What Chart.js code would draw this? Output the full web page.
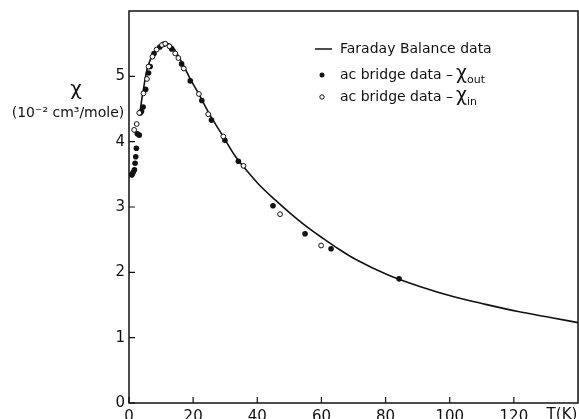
<!DOCTYPE html>
<html>
<head>
<meta charset="utf-8">
<script src="https://cdn.jsdelivr.net/npm/chart.js@4.4.1/dist/chart.umd.min.js"></script>
<style>
  body { margin: 0; background: #fff; }
  #wrap { width: 579px; height: 419px; }
</style>
</head>
<body>
<div id="wrap"><canvas id="myChart" width="579" height="419"></canvas></div>
<script>
// Faraday balance curve
var faradayT   = [3.4, 3.9, 4.5, 5.1, 5.6, 6.6, 8.1, 9.8, 11.9, 13.9, 16.4, 19, 22, 25, 29.1, 33.1, 37.7, 40.2, 45.3, 50.4, 55.4, 60.5, 65.6, 70.6, 80.8, 90.9, 101, 111.2, 121.3, 131.4, 140];
var faradayChi = [4.44, 4.62, 4.80, 4.98, 5.10, 5.25, 5.38, 5.47, 5.50, 5.43, 5.22, 4.97, 4.71, 4.43, 4.10, 3.78, 3.50, 3.36, 3.12, 2.90, 2.70, 2.52, 2.35, 2.20, 1.96, 1.78, 1.63, 1.51, 1.40, 1.31, 1.23];

// ac bridge, chi_out (filled)
var outT   = [0.8, 1.0, 1.3, 1.7, 1.9, 2.1, 2.3, 2.6, 3.2, 3.5, 3.9, 4.4, 5.2, 6.1, 6.6, 7.8, 9.6, 10.8, 13.3, 16.4, 19.1, 22.7, 25.7, 29.9, 34.1, 44.9, 54.9, 63.0, 84.2];
var outChi = [3.49, 3.50, 3.53, 3.57, 3.67, 3.77, 3.90, 4.12, 4.10, 4.44, 4.46, 4.53, 4.80, 5.05, 5.15, 5.35, 5.45, 5.49, 5.42, 5.19, 4.93, 4.63, 4.33, 4.02, 3.70, 3.02, 2.59, 2.36, 1.90];

// ac bridge, chi_in (open)
var inT   = [1.6, 2.4, 3.2, 4.5, 5.6, 6.1, 7.3, 8.6, 10.3, 11.3, 12.6, 14.4, 15.4, 17.1, 21.8, 24.7, 29.4, 35.7, 47.1, 59.9];
var inChi = [4.18, 4.27, 4.44, 4.74, 4.96, 5.15, 5.30, 5.41, 5.48, 5.50, 5.46, 5.35, 5.28, 5.12, 4.73, 4.42, 4.08, 3.63, 2.89, 2.41];

var xTicks = [0, 20, 40, 60, 80, 100, 120];
var yTicks = [0, 1, 2, 3, 4, 5];

function pts(xs, ys) {
  return xs.map(function (x, i) { return { x: x, y: ys[i] }; });
}

var FONT = '"DejaVu Sans", sans-serif';

// frame, inward tick marks, axis captions and legend
var decorations = {
  id: 'decorations',
  afterDraw: function (chart) {
    var ctx = chart.ctx;
    var a = chart.chartArea;
    var xs = chart.scales.x, ys = chart.scales.y;
    ctx.save();
    ctx.strokeStyle = '#111';
    ctx.lineWidth = 1.5;
    ctx.strokeRect(a.left, a.top, a.right - a.left, a.bottom - a.top);

    ctx.lineWidth = 1.2;
    ctx.beginPath();
    xTicks.forEach(function (v) {
      var px = xs.getPixelForValue(v);
      ctx.moveTo(px, a.bottom); ctx.lineTo(px, a.bottom - 6);
    });
    yTicks.forEach(function (v) {
      var py = ys.getPixelForValue(v);
      ctx.moveTo(a.left, py); ctx.lineTo(a.left + 6, py);
    });
    ctx.stroke();

    ctx.fillStyle = '#111';
    // x axis caption sits in the tick label row
    ctx.font = '15px ' + FONT;
    ctx.textAlign = 'center';
    ctx.textBaseline = 'top';
    ctx.fillText('T(K)', xs.getPixelForValue(135), a.bottom + 5);

    // y axis caption
    ctx.textBaseline = 'middle';
    ctx.font = '20px ' + FONT;
    ctx.fillText('χ', 76, 90);
    ctx.font = '14px ' + FONT;
    ctx.fillText('(10⁻² cm³/mole)', 68, 113);

    // legend
    var lx = 340;
    var rows = [49, 75, 97];
    ctx.textAlign = 'left';
    ctx.font = '14px ' + FONT;
    ctx.lineWidth = 1.5;
    ctx.beginPath();
    ctx.moveTo(315, rows[0]); ctx.lineTo(332, rows[0]);
    ctx.stroke();
    ctx.fillText('Faraday Balance data', lx, rows[0]);

    ctx.beginPath();
    ctx.arc(322, rows[1], 2.5, 0, Math.PI * 2);
    ctx.fill();
    ctx.beginPath();
    ctx.lineWidth = 1;
    ctx.arc(322, rows[2], 2.2, 0, Math.PI * 2);
    ctx.stroke();

    [['out', rows[1]], ['in', rows[2]]].forEach(function (r) {
      ctx.font = '14px ' + FONT;
      var t = 'ac bridge data –';
      ctx.fillText(t, lx, r[1]);
      var w = ctx.measureText(t).width + 3;
      ctx.font = '19px ' + FONT;
      ctx.fillText('χ', lx + w, r[1] - 1);
      var w2 = ctx.measureText('χ').width;
      ctx.font = '11px ' + FONT;
      ctx.fillText(r[0], lx + w + w2, r[1] + 5);
    });
    ctx.restore();
  }
};

var ctx = document.getElementById('myChart').getContext('2d');
var chart = new Chart(ctx, {
  type: 'scatter',
  data: {
    datasets: [{
      label: 'Faraday Balance data',
      data: pts(faradayT, faradayChi),
      showLine: true,
      borderColor: '#111',
      borderWidth: 1.6,
      pointRadius: 0,
      pointHoverRadius: 0,
      cubicInterpolationMode: 'monotone',
      order: 3
    }, {
      label: 'ac bridge data - chi out',
      data: pts(outT, outChi),
      pointRadius: 2.8,
      pointBackgroundColor: '#111',
      pointBorderColor: '#111',
      pointBorderWidth: 0,
      order: 2
    }, {
      label: 'ac bridge data - chi in',
      data: pts(inT, inChi),
      pointRadius: 2.4,
      pointBackgroundColor: '#fff',
      pointBorderColor: '#111',
      pointBorderWidth: 1,
      order: 1
    }]
  },
  options: {
    responsive: false,
    animation: false,
    events: [],
    layout: { autoPadding: false, padding: { top: 11, right: 1, left: 0, bottom: 0 } },
    plugins: {
      legend: { display: false },
      tooltip: { enabled: false }
    },
    scales: {
      x: {
        type: 'linear',
        min: 0,
        max: 140,
        grid: { display: false, drawTicks: false },
        border: { display: false },
        afterBuildTicks: function (s) { s.ticks = xTicks.map(function (v) { return { value: v }; }); },
        afterFit: function (s) { s.height = 16; s.paddingLeft = 0; s.paddingRight = 0; },
        ticks: { color: '#111', padding: 5, maxRotation: 0, font: { family: FONT, size: 15 } }
      },
      y: {
        type: 'linear',
        min: 0,
        max: 6,
        grid: { display: false, drawTicks: false },
        border: { display: false },
        afterBuildTicks: function (s) { s.ticks = yTicks.map(function (v) { return { value: v }; }); },
        afterFit: function (s) { s.width = 129; s.paddingTop = 0; s.paddingBottom = 0; },
        ticks: { color: '#111', padding: 4, font: { family: FONT, size: 15 } }
      }
    }
  },
  plugins: [decorations]
});
</script>
</body>
</html>
